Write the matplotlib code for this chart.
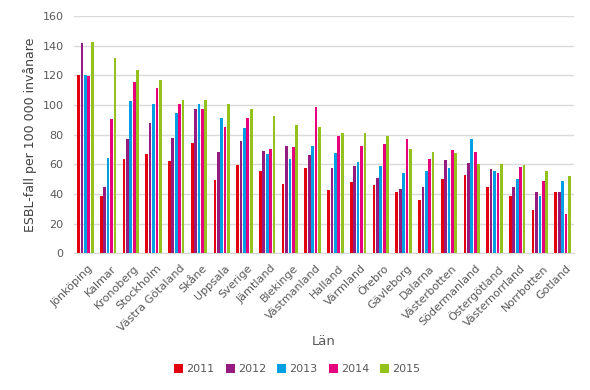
import matplotlib.pyplot as plt
import matplotlib.transforms as mtransforms
import numpy as np

lan = ["Jönköping", "Kalmar", "Kronoberg", "Stockholm", "Västra Götaland", "Skåne",
       "Uppsala", "Sverige", "Jämtland", "Blekinge", "Västmanland", "Halland",
       "Värmland", "Örebro", "Gävleborg", "Dalarna", "Västerbotten", "Södermanland",
       "Östergötland", "Västernorrland", "Norrbotten", "Gotland"]
years = ["2011", "2012", "2013", "2014", "2015"]

v2011 = [120, 38.6, 63.6, 67, 62.2, 74.4, 49.4, 59.5, 55.5, 46.7, 57.5, 42.7,
         48.1, 46, 41.3, 35.9, 50.1, 52.8, 44.7, 38.6, 29.2, 41.3]
v2012 = [141.7, 44.7, 77, 87.9, 77.7, 97.3, 68.3, 75.7, 69, 72.4, 66.3, 57.5,
         58.9, 50.8, 43.4, 44.7, 62.9, 60.9, 56.8, 44.7, 41.3, 41.3]
v2013 = [120, 64.3, 102.7, 100.7, 94.6, 100.7, 91.2, 84.5, 67, 63.6, 72.4, 67.6,
         61.6, 58.9, 54.1, 55.5, 57.5, 77, 55.5, 50.1, 38.6, 48.8]
v2014 = [119.5, 90.6, 115.5, 111.5, 100.7, 97.3, 85.2, 91.2, 70.3, 71.7, 98.6, 79.1,
         72.4, 73.7, 77, 63.6, 69.7, 68.3, 54.1, 58.2, 48.8, 26.5]
v2015 = [142.5, 131.7, 123.6, 116.9, 103.4, 103.4, 100.7, 97.3, 92.6, 86.5, 85.2, 81.1,
         81.1, 79.1, 70.3, 68.3, 67.6, 60.2, 60.2, 59.5, 55.5, 52.1]

series = [v2011, v2012, v2013, v2014, v2015]
colors = ["#E3000F", "#951B81", "#009FE3", "#E6007E", "#95C11F"]
grey = "#595959"

fig = plt.figure(figsize=(5.9, 3.9), dpi=100)
ax = fig.add_axes([0.1254, 0.3505, 0.8475, 0.6085])

x = np.arange(len(lan))
step = 0.15
for i, (vals, c, yr) in enumerate(zip(series, colors, years)):
    ax.bar(x + (i - 2) * step, vals, width=0.12, color=c, label=yr, zorder=3)

ax.set_xlim(-0.5, len(lan) - 0.5)
ax.set_ylim(0, 160)
ax.set_yticks(range(0, 161, 20))
ax.grid(axis="y", color="#d9d9d9", linewidth=1, zorder=0)
for s in ["top", "right", "left"]:
    ax.spines[s].set_visible(False)
ax.spines["bottom"].set_color("#d9d9d9")
ax.tick_params(length=0, colors=grey, labelsize=8)
ax.tick_params(axis="y", pad=7.5)
ax.set_xticks(x)
ax.set_xticklabels(lan, rotation=45, ha="right", rotation_mode="anchor")
# nudge rotated labels slightly right/down like the original
offset = mtransforms.ScaledTranslation(3 / 100, -5 / 100, fig.dpi_scale_trans)
for lbl in ax.get_xticklabels():
    lbl.set_transform(lbl.get_transform() + offset)
ax.set_ylabel("ESBL-fall per 100 000 invånare", fontsize=9, color="#404040", labelpad=4)
ax.set_xlabel("Län", fontsize=9.5, color=grey, labelpad=1)

leg = ax.legend(loc="upper center", bbox_to_anchor=(0.447, -0.425), ncol=5, frameon=False,
                fontsize=8, handlelength=0.8, handleheight=0.8, handletextpad=0.3,
                columnspacing=1.0)
for t in leg.get_texts():
    t.set_color(grey)

fig.savefig("out.png", dpi=100)
